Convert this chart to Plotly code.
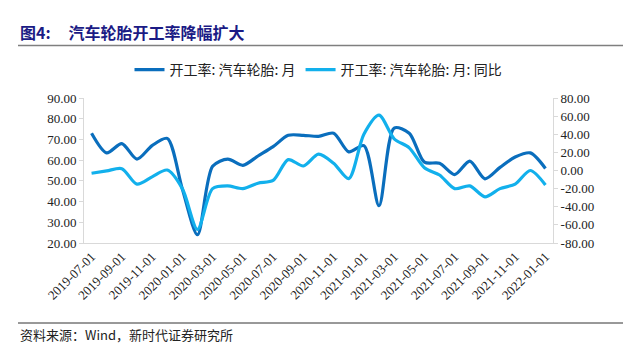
import plotly.graph_objects as go

months = ["2019-07-01","2019-08-01","2019-09-01","2019-10-01","2019-11-01","2019-12-01",
          "2020-01-01","2020-02-01","2020-03-01","2020-04-01","2020-05-01","2020-06-01",
          "2020-07-01","2020-08-01","2020-09-01","2020-10-01","2020-11-01","2020-12-01",
          "2021-01-01","2021-02-01","2021-03-01","2021-04-01","2021-05-01","2021-06-01",
          "2021-07-01","2021-08-01","2021-09-01","2021-10-01","2021-11-01","2021-12-01",
          "2022-01-01"]
rate = [73.0, 63.5, 68.0, 60.5, 67.0, 70.5, 46.0, 24.0, 57.0, 60.5, 57.5, 62.0,
        66.5, 72.0, 72.0, 71.5, 73.0, 64.0, 67.0, 38.0, 75.5, 73.0, 59.0, 58.5,
        53.0, 59.5, 51.0, 56.5, 61.5, 63.5, 56.0]
yoy = [-3.0, -0.5, 2.0, -15.0, -7.0, 0.5, -20.0, -65.0, -20.0, -17.0, -20.0, -14.0,
       -11.0, 12.0, 5.0, 18.0, 8.0, -9.0, 40.0, 61.0, 35.0, 25.0, 3.0, -5.0,
       -20.0, -17.0, -29.0, -20.0, -15.0, 0.0, -16.0]
name1 = "开工率: 汽车轮胎: 月"
name2 = "开工率: 汽车轮胎: 月: 同比"
left_ticks = [20, 30, 40, 50, 60, 70, 80, 90]
right_ticks = [-80, -60, -40, -20, 0, 20, 40, 60, 80]

W, H = 632, 354
L, R, T, B = 84, 79, 98, 111
pw, ph = W - L - R, H - T - B
def px(x): return (x - L) / pw
def py(y): return (H - B - y) / ph

SERIF = "Liberation Serif"
CJK = "Noto Sans CJK SC"

fig = go.Figure()
fig.add_trace(go.Scatter(x=months, y=rate, name=name1, mode="lines",
                         line=dict(color="#0A6EBD", width=3.2, shape="spline", smoothing=0.8)))
fig.add_trace(go.Scatter(x=months, y=yoy, name=name2, mode="lines", yaxis="y2",
                         line=dict(color="#12B0EC", width=3.2, shape="spline", smoothing=0.8)))

fig.update_layout(
    width=W, height=H,
    margin=dict(l=L, r=R, t=T, b=B),
    plot_bgcolor="white", paper_bgcolor="white",
    font=dict(family=SERIF, size=13, color="#222"),
    showlegend=True,
    legend=dict(orientation="h", x=0.5, xanchor="center", y=py(70), yanchor="middle",
                font=dict(family=CJK, size=14, color="#222"),
                itemwidth=30, tracegroupgap=0, bgcolor="rgba(0,0,0,0)"),
    xaxis=dict(type="category", range=[-0.5, len(months) - 0.5],
               tickvals=months[::2], ticktext=months[::2], tickangle=-45,
               showline=True, linecolor="#d9d9d9", linewidth=1, showgrid=False,
               ticks=""),
    yaxis=dict(range=[20, 90], tickvals=left_ticks,
               ticktext=[f"{v:.2f}" for v in left_ticks],
               showline=True, linecolor="#d9d9d9", linewidth=1, showgrid=False,
               ticks="outside", ticklen=4, tickcolor="#d9d9d9",
               zeroline=False),
    yaxis2=dict(range=[-80, 80], tickvals=right_ticks,
                ticktext=[f"{v:.2f}" for v in right_ticks],
                overlaying="y", side="right",
                showline=True, linecolor="#d9d9d9", linewidth=1, showgrid=False,
                ticks="outside", ticklen=4, tickcolor="#d9d9d9",
                zeroline=False),
)

fig.add_annotation(x=px(18), y=py(32), xref="paper", yref="paper", xanchor="left", yanchor="middle",
                   showarrow=False,
                   text="<b>图4:</b>&nbsp;&nbsp;&nbsp;&nbsp;&nbsp;<b>汽车轮胎开工率降幅扩大</b>",
                   font=dict(family=CJK, size=16, color="#1B1B85"))
fig.add_shape(type="line", xref="paper", yref="paper", x0=px(18), x1=px(623), y0=py(45.5), y1=py(45.5),
              line=dict(color="#7f7f7f", width=1.5))
fig.add_shape(type="line", xref="paper", yref="paper", x0=px(18), x1=px(623), y0=py(323), y1=py(323),
              line=dict(color="#333333", width=1))
fig.add_annotation(x=px(18), y=py(334), xref="paper", yref="paper", xanchor="left", yanchor="middle",
                   showarrow=False, text="资料来源：Wind，新时代证券研究所",
                   font=dict(family=CJK, size=13, color="#222"))

fig.write_html("out.html")
